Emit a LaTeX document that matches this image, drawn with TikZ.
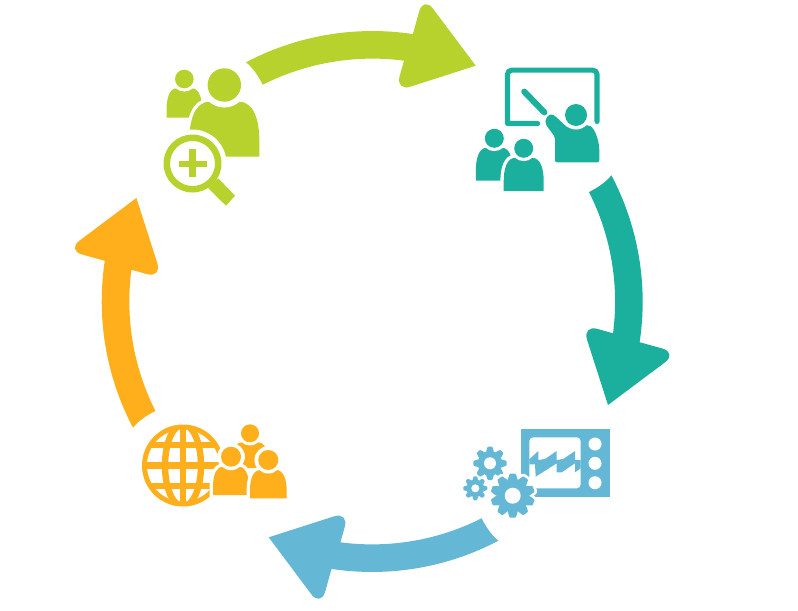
\documentclass[tikz,border=0pt]{standalone}
\definecolor{cgreen}{HTML}{B7D12D}
\definecolor{cteal}{HTML}{1BB09D}
\definecolor{cblue}{HTML}{64B8D6}
\definecolor{corange}{HTML}{FEAF1B}
% arrow of the cycle, drawn once around the centre and turned
\newcommand{\cyclearrow}[2]{%
  \fill[#2,shift={(372.2,301.5)},rotate=#1]
    (-126.2,-239.2) arc[start angle=-117.8,end angle=-81.4,radius=271]
    [rounded corners=12pt] -- (51.3,-305.5)
    [sharp corners] -- (103.5,-235.8)
    [rounded corners=12pt] -- (23.1,-210)
    [sharp corners] -- (31.8,-240.8)
    arc[start angle=-82.5,end angle=-116.8,radius=243]
    .. controls (-114.2,-226.5) and (-120.2,-234.5) .. (-126.2,-239.2) -- cycle;}
% head: centre x, centre y, radius; body: half width, bottom
\newcommand{\bodypath}[5]{%
  (#1-#4,#5) -- (#1-#4,#2+#3+0.7*#5-0.7*#2-0.7*#3)
  .. controls (#1-#4,#2+#3+0.35*#5-0.35*#2-0.35*#3) and (#1-0.85*#4,#2+#3) .. (#1-0.42*#4,#2+#3)
  -- (#1+0.42*#4,#2+#3)
  .. controls (#1+0.85*#4,#2+#3) and (#1+#4,#2+#3+0.35*#5-0.35*#2-0.35*#3) .. (#1+#4,#2+#3+0.7*#5-0.7*#2-0.7*#3)
  -- (#1+#4,#5) -- cycle}
\newcommand{\personicon}[6]{%
  \draw[white,line width=5pt,fill=white] \bodypath{#1}{#2}{#3}{#4}{#5};
  \fill[white] (#1,#2) circle[radius=#3*1.38];
  \fill[#6] \bodypath{#1}{#2}{#3}{#4}{#5};
  \fill[white] (#1,#2) circle[radius=#3*1.35];
  \fill[#6] (#1,#2) circle[radius=#3];}
% gear: centre x, y, outer radius, teeth, style
\newcommand{\gearshape}[5]{%
  \path[#5] (#1,#2) circle[radius=#3*0.74];
  \foreach \i in {1,...,#4}{%
    \path[#5,shift={(#1,#2)},rotate=90+\i*360/#4,rounded corners=0.6pt]
      (#3*0.68,-#3*0.24) -- (#3,-#3*0.14) -- (#3,#3*0.14) -- (#3*0.68,#3*0.24) -- cycle;}}
\tikzset{
  board/.style={draw=cteal,line width=3.8pt,line cap=round,line join=round},
  globeline/.style={draw=corange,line width=4.8pt},
}
\begin{document}
\begin{tikzpicture}[x=0.75pt,y=-0.75pt]
\useasboundingbox (0,0) rectangle (798,610);
\fill[white] (0,0) rectangle (798,610);
% green icon
\personicon{184.3}{79}{9.3}{17.7}{117.7}{cgreen}
\personicon{224.3}{85}{16.7}{35}{156.7}{cgreen}
\fill[white] (192.5,163.5) circle[radius=34];
\fill[cgreen,even odd rule] (192.5,163.5) circle[radius=29] circle[radius=22.5];
\fill[cgreen] (179,160.8) rectangle (206.7,167.2);
\fill[cgreen] (189.3,149.3) rectangle (195.7,177.3);
\fill[cgreen] (208.3,188.3) -- (218.3,178.3) -- (235,195.7) -- (226,205.7) -- cycle;
% teal icon
\draw[board] (537.7,123.5) -- (507.5,123.5) [rounded corners=3pt] -- (507.5,70.2) -- (597,70.2) [sharp corners] -- (597,121.5);
\draw[board,line width=4.6pt] (524.3,91.7) -- (544.3,112.3);
\personicon{494.3}{138.3}{9.5}{18.5}{180.7}{cteal}
\personicon{523.7}{148.3}{9.5}{20}{191}{cteal}
\fill[cteal,rounded corners=1.5pt] (555,162.3) -- (555,137) -- (547.5,127)
  .. controls (543,120) and (549,112) .. (555,116)
  -- (568,128) -- (589,125)
  .. controls (596,130) and (599.3,143) .. (599.3,152) -- (599.3,162.3) -- cycle;
\fill[white] (576,115) circle[radius=14.5];
\fill[cteal] (576,115) circle[radius=11];
% blue icon
\fill[cblue] (521,429.3) rectangle (610,496.7);
\fill[white,rounded corners=3pt] (529.3,437.3) rectangle (580.7,488.3);
\fill[cblue] (529.3,459.3) -- (538.3,451) -- (538.3,460) -- (545,459) -- (556.7,451) -- (556.7,460) -- (563.3,459) -- (575,451) -- (575,460) -- (580.7,460)
  -- (580.7,468.3) -- (575,472.3) -- (575,463.3) -- (561.7,472.3) -- (556.7,472.3) -- (556.7,463.3) -- (535.7,476.7) -- (535,464.3) -- (529.3,464.3) -- cycle;
\foreach \yy in {444,463.3,482.7}{\fill[white] (595,\yy) circle[radius=6.5];}
\gearshape{490}{463.3}{16.7}{8}{fill=cblue}
\fill[white] (490,463.3) circle[radius=6];
\gearshape{475.3}{488.3}{12}{8}{fill=cblue}
\fill[white] (475.3,488.3) circle[radius=4];
\gearshape{512.7}{495.7}{22}{10}{draw=white,fill=white,line width=4pt}
\gearshape{512.7}{495.7}{22}{10}{fill=cblue}
\fill[white] (512.7,495.7) circle[radius=8];
% orange icon
\fill[corange] (183,465.5) circle[radius=41];
\fill[white] (183,465.5) circle[radius=36];
\begin{scope}
  \clip (183,465.5) circle[radius=38];
  \draw[globeline] (183,424) -- (183,507);
  \draw[globeline] (183,465.5) circle[x radius=18,y radius=41];
  \draw[globeline] (140,465.5) -- (226,465.5);
  \draw[globeline] (140,445) -- (226,445);
  \draw[globeline] (140,486) -- (226,486);
\end{scope}
\personicon{250}{433.3}{9}{18}{468}{corange}
\personicon{231}{456.7}{10}{18}{495}{corange}
\personicon{268.3}{460}{10}{18.3}{498.3}{corange}
% arrows
\cyclearrow{0}{cgreen}
\cyclearrow{-90}{cteal}
\cyclearrow{-180}{cblue}
\cyclearrow{-270}{corange}
\end{tikzpicture}
\end{document}
